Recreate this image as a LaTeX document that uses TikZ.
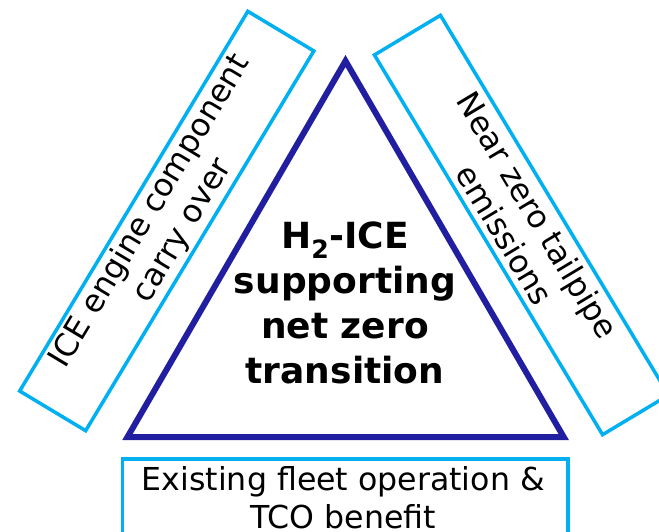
\documentclass[tikz,border=0pt]{standalone}
\usepackage{fontspec}
\setmainfont{DejaVu Sans}
\definecolor{boxcyan}{RGB}{0,176,240}
\definecolor{coreblue}{RGB}{34,30,160}
\begin{document}
\begin{tikzpicture}[x=1pt,y=-1pt,
  sidebox/.style={draw=boxcyan, line width=3.5pt, minimum width=443pt,
    minimum height=77pt, inner sep=0pt, align=center,
    font=\fontsize{31.6}{38}\selectfont},
  benefitbox/.style={draw=boxcyan, line width=3.5pt, inner sep=0pt,
    minimum width=445.5pt, minimum height=120pt, anchor=north west},
  benefittext/.style={inner sep=0pt, align=center, anchor=north,
    font=\fontsize{31.6}{38}\selectfont},
  coretext/.style={align=center, inner sep=0pt,
    font=\bfseries\fontsize{36}{45}\selectfont},
  coreedge/.style={draw=coreblue, line width=6pt, line join=miter}]
\useasboundingbox (0,0) rectangle (659,532);
\clip (0,0) rectangle (659,532);
\fill[white] (0,0) rectangle (659,532);

% central triangle
\coordinate (apex) at (345.5,61);
\coordinate (left) at (127.5,437);
\coordinate (right) at (563.7,437);
\draw[coreedge] (apex) -- (left) -- (right) -- cycle;
\node[coretext] (core) at (345,303)
  {H\textsubscript{2}-ICE\\supporting\\net zero\\transition};

% side benefits
\node[sidebox, rotate=59] (carry) at (166.75,221)
  {ICE engine component\\carry over};
\node[sidebox, rotate=-59] (tailpipe) at (521.5,225)
  {Near zero tailpipe\\emissions};

% bottom benefit
\node[benefitbox] (fleet) at (120.5,457) {};
\node[benefittext] (fleetlabel) at (343.3,466)
  {Existing fleet operation \&\\TCO benefit};
\end{tikzpicture}
\end{document}
